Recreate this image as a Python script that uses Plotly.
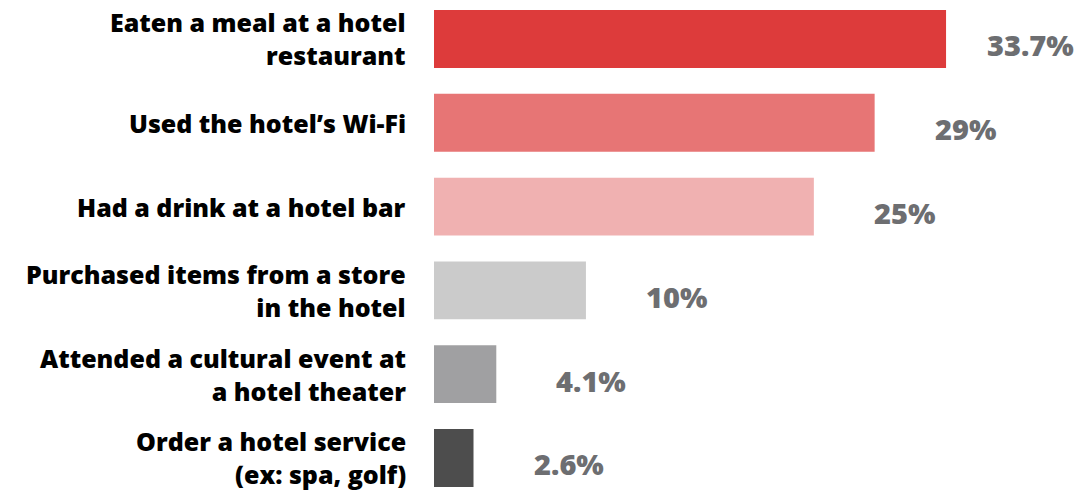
import plotly.graph_objects as go

# Survey data: share of guests who used each hotel amenity
categories = [
    "Eaten a meal at a hotel<br>restaurant",
    "Used the hotel’s Wi-Fi",
    "Had a drink at a hotel bar",
    "Purchased items from a store<br>in the hotel",
    "Attended a cultural event at<br>a hotel theater",
    "Order a hotel service<br>(ex: spa, golf)",
]
values = [33.7, 29, 25, 10, 4.1, 2.6]
value_labels = ["33.7%", "29%", "25%", "10%", "4.1%", "2.6%"]
bar_colors = ["#dd3b3b", "#e77575", "#f0b1b1", "#cbcbcb", "#a0a0a2", "#4d4d4d"]

FONT = "Open Sans"
rows = list(range(len(categories)))

fig = go.Figure(
    go.Bar(
        x=values,
        y=rows,
        orientation="h",
        width=0.69,
        marker=dict(color=bar_colors, line=dict(width=0)),
        hoverinfo="skip",
    )
)

annotations = []
for i, (cat, val, lab) in enumerate(zip(categories, values, value_labels)):
    # category label, right-aligned to the left of the bar
    annotations.append(dict(
        xref="paper", yref="y", x=0, y=i, xanchor="right", yanchor="middle",
        xshift=-26, text=cat, align="right", showarrow=False,
        font=dict(family=FONT, size=25, color="#000000", weight=800),
    ))
    # value label to the right of the bar
    if val == max(values):
        ann = dict(xref="paper", x=1, xanchor="right", xshift=-3)
    else:
        ann = dict(xref="x", x=val, xanchor="left", xshift=58)
    ann.update(dict(
        yref="y", y=i, yanchor="middle", yshift=-6, text=lab, showarrow=False,
        font=dict(family=FONT, size=29, color="#6d6e71", weight=800),
    ))
    annotations.append(ann)

fig.update_layout(
    width=1079, height=491,
    margin=dict(l=434, r=0, t=0, b=0),
    paper_bgcolor="white", plot_bgcolor="white",
    showlegend=False,
    annotations=annotations,
    xaxis=dict(range=[0, 42.45], visible=False, fixedrange=True),
    yaxis=dict(range=[5.394, -0.465], visible=False, fixedrange=True),
)

fig.write_html("out.html")
